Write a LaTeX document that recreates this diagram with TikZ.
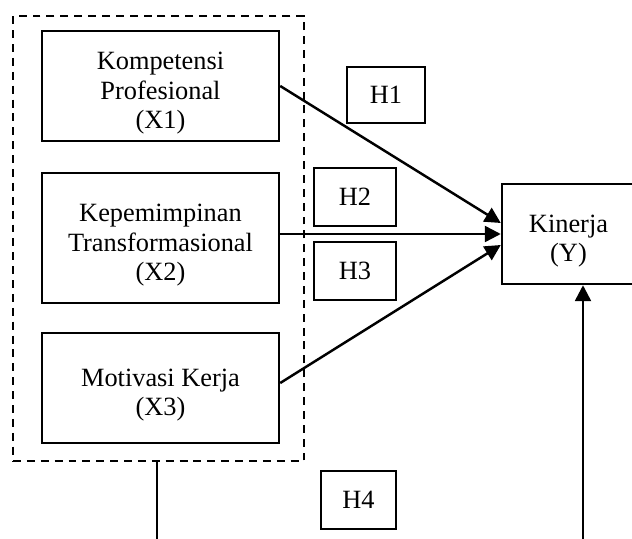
\documentclass[tikz,border=0pt]{standalone}
\usepackage{fontspec}
\setmainfont{Liberation Serif}
\usetikzlibrary{arrows.meta}
\newcommand{\topgap}{\rule{0pt}{18pt}}

\begin{document}
\begin{tikzpicture}[
        font=\fontsize{15}{17}\selectfont,
        hbox/.style={draw, line width=1.4pt, inner sep=0pt, minimum height=1.16cm},
        box/.style={hbox, align=center},
        grpbox/.style={draw, line width=1.4pt, dash pattern=on 4.5pt off 3.4pt, inner sep=0pt},
        link/.style={line width=1.4pt, -{Triangle[length=9pt,width=9pt]}}
    ]
        \useasboundingbox (0,0) rectangle (12.64,10.76);
        \node[grpbox, minimum width=5.82cm, minimum height=8.9cm] (grp) at (3.17,5.99) {};
        \node[box, minimum width=4.74cm, minimum height=2.2cm] (x1) at (3.21,9.04) {\topgap Kompetensi\\Profesional\\(X1)};
        \node[box, minimum width=4.74cm, minimum height=2.6cm] (x2) at (3.21,6.00) {\topgap Kepemimpinan\\Transformasional\\(X2)};
        \node[box, minimum width=4.74cm, minimum height=2.2cm] (x3) at (3.21,3.00) {\topgap Motivasi Kerja\\(X3)};
        \node[box, minimum width=2.66cm, minimum height=2cm] (kin) at (11.37,6.08) {\topgap Kinerja\\(Y)};
        \node[hbox, minimum width=1.56cm, minimum height=1.12cm] (h1) at (7.72,8.86) {H1};
        \node[hbox, minimum width=1.64cm] (h2) at (7.10,6.82) {H2};
        \node[hbox, minimum width=1.64cm] (h3) at (7.10,5.34) {H3};
        \node[hbox, minimum width=1.50cm] (h4) at (7.17,0.76) {H4};
        \coordinate (e1) at (3.14,-0.1);
        \coordinate (e2) at (11.66,-0.1);
        \draw[link] (x1.east) -- ([yshift=0.22cm]kin.west);
        \draw[link] (x2.east |- kin.west) -- (kin.west);
        \draw[link] ([yshift=0.1cm]x3.east) -- ([yshift=-0.22cm]kin.west);
        \draw[line width=1.4pt] (grp.south -| e1) -- (e1);
        \draw[link] (e2) -- (e2 |- kin.south);
    \end{tikzpicture}
\end{document}
